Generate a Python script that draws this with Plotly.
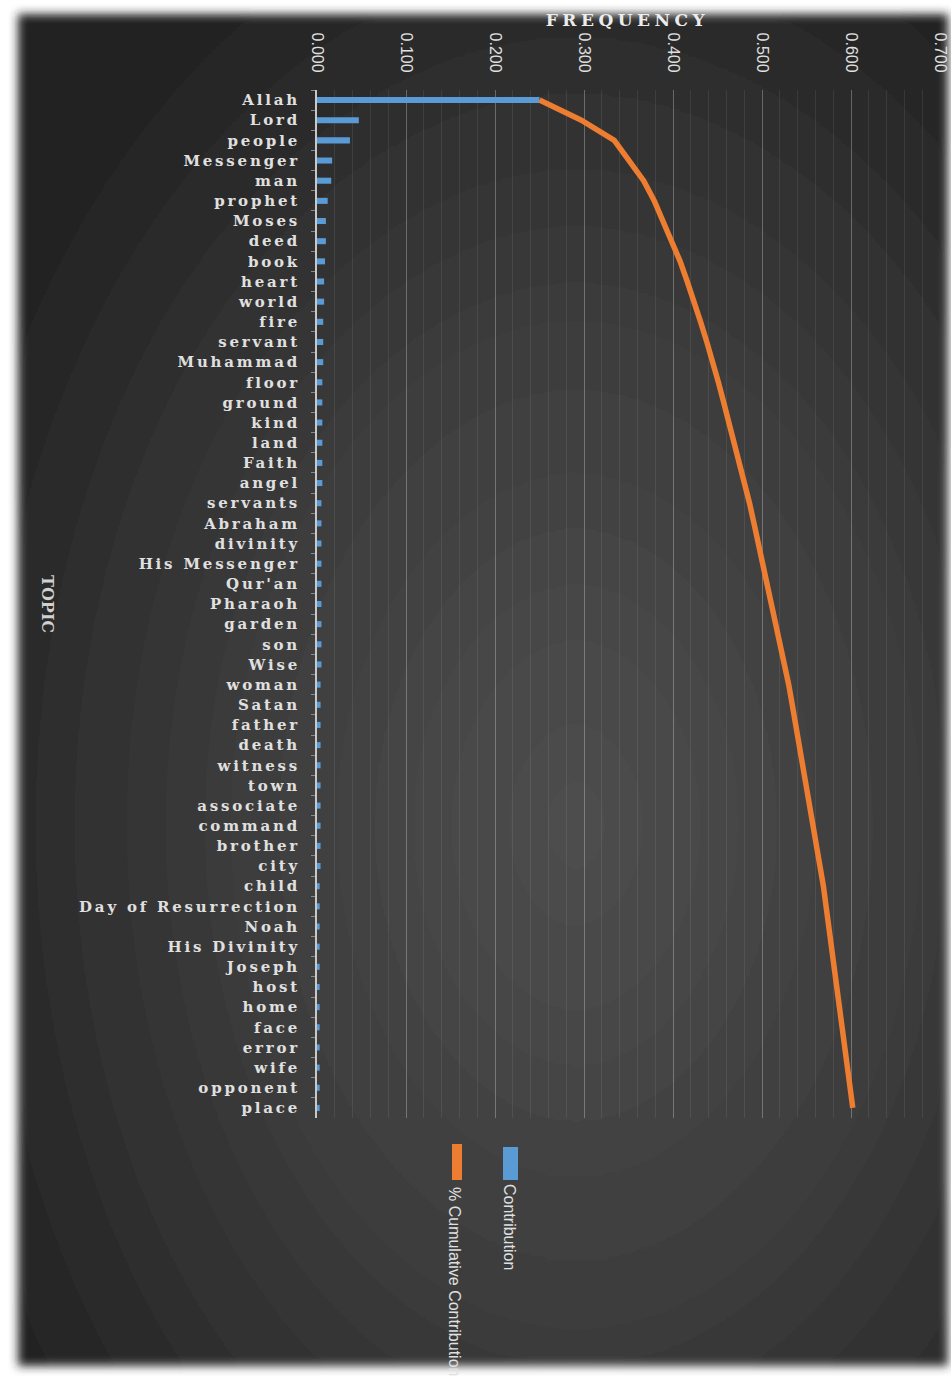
import base64
import plotly.graph_objects as go

topics = ["Allah", "Lord", "people", "Messenger", "man", "prophet", "Moses", "deed",
          "book", "heart", "world", "fire", "servant", "Muhammad", "floor", "ground",
          "kind", "land", "Faith", "angel", "servants", "Abraham", "divinity",
          "His Messenger", "Qur'an", "Pharaoh", "garden", "son", "Wise", "woman",
          "Satan", "father", "death", "witness", "town", "associate", "command",
          "brother", "city", "child", "Day of Resurrection", "Noah", "His Divinity",
          "Joseph", "host", "home", "face", "error", "wife", "opponent", "place"]

contribution = [0.250, 0.047, 0.037, 0.017, 0.016, 0.012, 0.010, 0.010, 0.009, 0.008,
                0.008, 0.007, 0.007, 0.007, 0.006, 0.006, 0.006, 0.006, 0.006, 0.006,
                0.005, 0.005, 0.005, 0.005, 0.005, 0.005, 0.005, 0.005, 0.005, 0.004,
                0.004, 0.004, 0.004, 0.004, 0.004, 0.004, 0.004, 0.004, 0.004, 0.003,
                0.003, 0.003, 0.003, 0.003, 0.003, 0.003, 0.003, 0.003, 0.003, 0.003,
                0.003]

cumulative = [0.250, 0.297, 0.334, 0.351, 0.367, 0.379, 0.389, 0.399, 0.408, 0.416,
              0.424, 0.431, 0.438, 0.445, 0.451, 0.457, 0.463, 0.469, 0.475, 0.481,
              0.486, 0.491, 0.496, 0.501, 0.506, 0.511, 0.516, 0.521, 0.526, 0.530,
              0.534, 0.538, 0.542, 0.546, 0.550, 0.554, 0.558, 0.562, 0.566, 0.569,
              0.572, 0.575, 0.578, 0.581, 0.584, 0.587, 0.590, 0.593, 0.596, 0.599,
              0.602]

x_ticks = [0.0, 0.1, 0.2, 0.3, 0.4, 0.5, 0.6, 0.7]
x_tick_labels = ["0.000", "0.100", "0.200", "0.300", "0.400", "0.500", "0.600", "0.700"]

W, H = 951, 1376
ML, MR, MT, MB = 317, 11, 90, 258
PW, PH = W - ML - MR, H - MT - MB


def px(x):
    return (x - ML) / PW


def py(y):
    return (H - MB - y) / PH


BLUE = "#5b9bd5"
ORANGE = "#ed7d31"
TXT = "#e0e0e0"

svg = f'''<svg xmlns="http://www.w3.org/2000/svg" width="{W}" height="{H}" viewBox="0 0 {W} {H}">
<defs>
<radialGradient id="g" cx="0.6" cy="0.6" r="0.7">
<stop offset="0" stop-color="#4e4e4e"/>
<stop offset="0.5" stop-color="#3d3d3d"/>
<stop offset="1" stop-color="#242424"/>
</radialGradient>
<filter id="b" x="-5%" y="-5%" width="110%" height="110%"><feGaussianBlur stdDeviation="5"/></filter>
</defs>
<rect width="{W}" height="{H}" fill="#ffffff"/>
<rect x="18" y="14" width="930" height="1352" fill="url(#g)" filter="url(#b)"/>
</svg>'''
bg_src = "data:image/svg+xml;base64," + base64.b64encode(svg.encode()).decode()

fig = go.Figure()
fig.add_trace(go.Bar(
    x=contribution, y=topics, orientation="h", name="Contribution",
    marker=dict(color=BLUE, line=dict(width=0)), width=0.3,
))
fig.add_trace(go.Scatter(
    x=cumulative, y=topics, mode="lines", name="% Cumulative Contribution",
    line=dict(color=ORANGE, width=5.5),
))

fig.update_layout(
    width=W, height=H,
    margin=dict(l=ML, r=MR, t=MT, b=MB, pad=0, autoexpand=False),
    paper_bgcolor="rgba(0,0,0,0)", plot_bgcolor="rgba(0,0,0,0)",
    showlegend=False,
    images=[dict(source=bg_src, xref="paper", yref="paper", x=-ML / PW, y=1 + MT / PH,
                 sizex=W / PW, sizey=H / PH, sizing="stretch", layer="below",
                 xanchor="left", yanchor="top")],
    xaxis=dict(
        side="top", range=[0, 0.7], tickvals=x_ticks, ticktext=x_tick_labels,
        tickangle=90, tickfont=dict(family="Liberation Sans", size=16, color=TXT),
        showgrid=True, gridcolor="rgba(255,255,255,0.22)", gridwidth=1,
        minor=dict(dtick=0.02, showgrid=True, gridcolor="rgba(255,255,255,0.08)", gridwidth=1),
        zeroline=False, showline=False, ticks="", ticklabelstandoff=14, automargin=False,
    ),
    yaxis=dict(
        range=[len(topics) - 0.5, -0.5], showgrid=False, zeroline=False,
        showline=True, linecolor="#c8c8c8", linewidth=2,
        ticks="outside", tickson="boundaries", ticklen=4, tickcolor="#8a8a8a",
        tickfont=dict(family="DejaVu Serif", size=15, color=TXT, weight="bold"),
        ticklabelstandoff=12, automargin=False,
    ),
    annotations=[
        dict(text="FREQUENCY", xref="paper", yref="paper", x=px(628), y=py(20),
             showarrow=False, font=dict(family="DejaVu Serif", size=17, color="#ececec", weight="bold"),
             xanchor="center", yanchor="middle"),
        dict(text="TOPIC", xref="paper", yref="paper", x=px(48), y=py(604), textangle=90,
             showarrow=False, font=dict(family="DejaVu Serif", size=16, color="#d0d0d0", weight="bold"),
             xanchor="center", yanchor="middle"),
        dict(text="Contribution", xref="paper", yref="paper", x=px(510), y=py(1227), textangle=90,
             showarrow=False, font=dict(family="Liberation Sans", size=16, color=TXT),
             xanchor="center", yanchor="middle"),
        dict(text="% Cumulative Contribution", xref="paper", yref="paper", x=px(454), y=py(1281),
             textangle=90, showarrow=False, font=dict(family="Liberation Sans", size=16, color=TXT),
             xanchor="center", yanchor="middle"),
    ],
    shapes=[
        dict(type="rect", xref="paper", yref="paper", x0=px(503), x1=px(518), y0=py(1180), y1=py(1147),
             fillcolor=BLUE, line=dict(width=0)),
        dict(type="rect", xref="paper", yref="paper", x0=px(452), x1=px(462), y0=py(1180), y1=py(1144),
             fillcolor=ORANGE, line=dict(width=0)),
    ],
)

post = """
var s=document.createElement('style');
s.innerHTML='.ytick text{letter-spacing:2.8px;} g.annotation[data-index="0"] text{letter-spacing:4.5px;}';
document.head.appendChild(s);
"""

fig.write_html("out.html", post_script=post)
